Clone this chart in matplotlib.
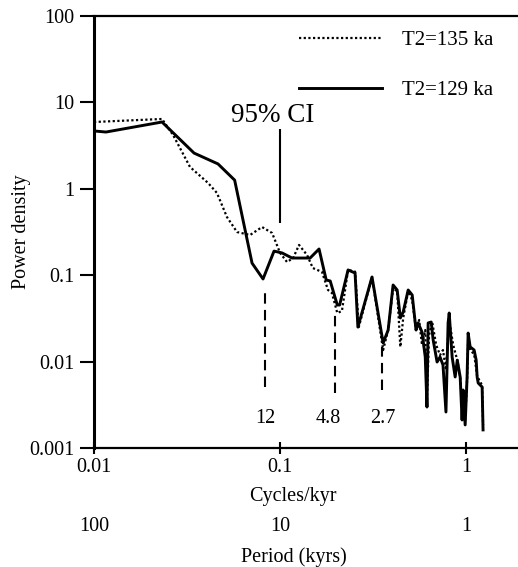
import numpy as np
import matplotlib
matplotlib.use("Agg")
import matplotlib.pyplot as plt

plt.rcParams['font.family'] = ['Liberation Serif', 'DejaVu Serif']

# spectrum for T2 = 129 ka (solid)
freq_129 = [0.01, 0.0116, 0.0232, 0.0345, 0.0464, 0.057, 0.0707, 0.081, 0.0928,
            0.1025, 0.116, 0.145, 0.162, 0.177, 0.186, 0.203, 0.209, 0.232, 0.253,
            0.262, 0.312, 0.358, 0.381, 0.405, 0.426, 0.443, 0.459, 0.488, 0.513,
            0.538, 0.552, 0.579, 0.603, 0.616, 0.625, 0.649, 0.665, 0.698, 0.724,
            0.751, 0.779, 0.80, 0.811, 0.841, 0.873, 0.896, 0.929, 0.951, 0.964,
            0.988, 1.012, 1.025, 1.051, 1.104, 1.132, 1.146, 1.161, 1.219, 1.233]
power_129 = [4.67, 4.54, 5.93, 2.59, 1.94, 1.26, 0.138, 0.0904, 0.19,
             0.181, 0.158, 0.158, 0.201, 0.088, 0.0857, 0.0452, 0.0452, 0.115, 0.106,
             0.0251, 0.0953, 0.0164, 0.0232, 0.077, 0.0674, 0.032, 0.0375, 0.0674, 0.059,
             0.0232, 0.028, 0.022, 0.0113, 0.00298, 0.028, 0.0287, 0.0178, 0.00989, 0.0113,
             0.00914, 0.00261, 0.028, 0.0365, 0.0113, 0.00664, 0.0104, 0.00664, 0.00211, 0.00469,
             0.00185, 0.00664, 0.0214, 0.0148, 0.0136, 0.0104, 0.00664, 0.00565, 0.00508, 0.00162]

# spectrum for T2 = 135 ka (dotted)
freq_135 = [0.01, 0.0232, 0.0266, 0.0328, 0.041, 0.0458, 0.0518, 0.0587, 0.069,
            0.080, 0.0906, 0.1, 0.109, 0.1175, 0.1265, 0.1397, 0.150, 0.168, 0.181,
            0.19, 0.203, 0.215, 0.232, 0.253, 0.265, 0.312, 0.358, 0.381, 0.405,
            0.426, 0.443, 0.459, 0.488, 0.513, 0.538, 0.559, 0.579, 0.603, 0.616,
            0.632, 0.657, 0.69, 0.724, 0.751, 0.779, 0.811, 0.852, 0.896, 0.929,
            0.951, 0.988, 1.012, 1.025, 1.051, 1.104, 1.146, 1.219, 1.233]
power_135 = [5.93, 6.43, 4.2, 1.79, 1.17, 0.894, 0.472, 0.316, 0.292,
             0.361, 0.308, 0.181, 0.142, 0.158, 0.224, 0.171, 0.121, 0.109, 0.0674,
             0.0622, 0.0365, 0.0385, 0.115, 0.11, 0.0251, 0.0953, 0.0136, 0.0232, 0.0711,
             0.065, 0.0148, 0.032, 0.065, 0.0516, 0.0232, 0.0303, 0.0156, 0.0232, 0.0036,
             0.0203, 0.0287, 0.0156, 0.0119, 0.0136, 0.008, 0.0303, 0.0156, 0.0104, 0.00664,
             0.00315, 0.00211, 0.0062, 0.0178, 0.0136, 0.0122, 0.0068, 0.0053, 0.00185]

# marked spectral minima (period labels in kyr)
mark_freq = [0.0825, 0.198, 0.352]
mark_top = [0.073, 0.0375, 0.0148]
mark_bottom = [0.0051, 0.00433, 0.00469]
mark_label_freq = [0.0836, 0.181, 0.358]
mark_labels = ['12', '4.8', '2.7']

# 95% confidence bar
ci_freq = 0.1
ci_low, ci_high = 0.40, 4.92

yticks = [0.001, 0.01, 0.1, 1, 10, 100]
ytick_labels = ['0.001', '0.01', '0.1', '1', '10', '100']
xticks = [0.01, 0.1, 1]
xtick_labels = ['0.01', '0.1', '1']
period_labels = ['100', '10', '1']

fig = plt.figure(figsize=(5.18, 5.67), dpi=100)
ax = fig.add_axes([94/518, 1-448/567, 424/518, 432/567])

ax.plot(freq_135, power_135, color='black', lw=1.6, linestyle=(0, (1, 1.1)), label='T2=135 ka')
ax.plot(freq_129, power_129, color='black', lw=2.1, label='T2=129 ka')

ax.vlines(mark_freq, mark_bottom, mark_top, colors='black', lw=1.5, linestyles=(0, (5, 3)))
for f, lab in zip(mark_label_freq, mark_labels):
    ax.text(f, 0.0022, lab, ha='center', va='center', fontsize=14.5)

ax.vlines([ci_freq], [ci_low], [ci_high], colors='black', lw=1.5)
ax.text(0.0916, 5.9, '95% CI', ha='center', va='baseline', fontsize=19.5)

ax.set_xscale('log')
ax.set_yscale('log')
ax.set_xlim(0.01, 1.9)
ax.set_ylim(0.001, 100)

ax.set_yticks(yticks)
ax.set_yticklabels(ytick_labels)
ax.set_xticks(xticks)
ax.set_xticklabels(xtick_labels)
ax.minorticks_off()
ax.tick_params(axis='y', direction='out', length=10, width=1.5, pad=4, labelsize=14.5)
ax.tick_params(axis='x', direction='inout', length=9, width=1.5, pad=3, labelsize=14.5)

ax.spines['right'].set_visible(False)
ax.spines['left'].set_linewidth(2.2)
ax.spines['bottom'].set_linewidth(1.6)
ax.spines['top'].set_linewidth(1.6)

ax.set_ylabel('Power density', fontsize=14.5)
ax.yaxis.label.set_verticalalignment('center')
ax.yaxis.set_label_coords(-0.170, 0.5)
ax.set_xlabel('Cycles/kyr', fontsize=14.5)
ax.xaxis.label.set_verticalalignment('center')
ax.xaxis.set_label_coords(0.468, -0.113)

trans = ax.get_xaxis_transform()
for f, lab in zip(xticks, period_labels):
    ax.text(f, -0.1806, lab, transform=trans, ha='center', va='center', fontsize=14.5)
ax.text(0.471, -0.252, 'Period (kyrs)', transform=ax.transAxes, ha='center', va='center', fontsize=14.5)

ax.legend(loc='upper left', bbox_to_anchor=(0.483, 0.966), frameon=False, fontsize=15,
          handlelength=4.0, handletextpad=0.95, labelspacing=1.45, borderpad=0, borderaxespad=0)

fig.savefig('out.png', dpi=100)
